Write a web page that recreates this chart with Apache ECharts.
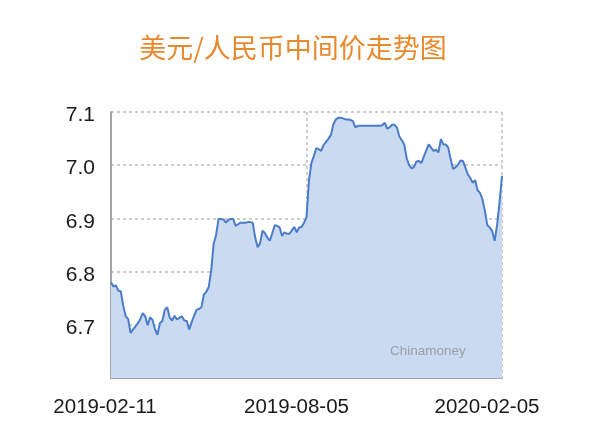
<!DOCTYPE html>
<html>
<head>
<meta charset="utf-8">
<script src="https://cdn.jsdelivr.net/npm/echarts@6/dist/echarts.min.js"></script>
<style>
html,body{margin:0;padding:0;background:#fff;}
#chart{width:600px;height:446px;}
</style>
</head>
<body>
<div id="chart"></div>
<script>
const titleText = '美元/人民币中间价走势图';
const watermarkText = 'Chinamoney';
const tickLabels = ['2019-02-11', '2019-08-05', '2020-02-05'];
const tickIndex = [0, 80, 160];
const rates = [
  6.780, 6.772, 6.774, 6.764, 6.763, 6.736, 6.716, 6.711, 6.685, 6.691,
  6.697, 6.703, 6.711, 6.722, 6.716, 6.699, 6.714, 6.709, 6.692, 6.681,
  6.703, 6.707, 6.728, 6.733, 6.714, 6.708, 6.717, 6.710, 6.713, 6.716,
  6.708, 6.707, 6.691, 6.705, 6.717, 6.728, 6.730, 6.733, 6.757, 6.762,
  6.771, 6.802, 6.852, 6.869, 6.899, 6.899, 6.898, 6.892, 6.897, 6.899,
  6.899, 6.886, 6.889, 6.892, 6.892, 6.892, 6.893, 6.893, 6.892, 6.864,
  6.846, 6.853, 6.877, 6.872, 6.864, 6.858, 6.872, 6.887, 6.886, 6.883,
  6.867, 6.874, 6.871, 6.871, 6.877, 6.884, 6.874, 6.883, 6.884, 6.892,
  6.902, 6.971, 7.004, 7.017, 7.032, 7.030, 7.027, 7.038, 7.044, 7.050,
  7.057, 7.077, 7.086, 7.089, 7.089, 7.088, 7.086, 7.086, 7.085, 7.083,
  7.071, 7.074, 7.074, 7.074, 7.074, 7.074, 7.074, 7.074, 7.074, 7.074,
  7.074, 7.075, 7.080, 7.069, 7.071, 7.076, 7.076, 7.071, 7.054, 7.047,
  7.039, 7.013, 7.000, 6.994, 6.997, 7.007, 7.008, 7.004, 7.016, 7.028,
  7.039, 7.033, 7.027, 7.029, 7.024, 7.049, 7.039, 7.039, 7.033, 7.011,
  6.993, 6.996, 7.001, 7.009, 7.008, 6.996, 6.983, 6.976, 6.967, 6.972,
  6.953, 6.948, 6.936, 6.914, 6.887, 6.883, 6.876, 6.858, 6.888, 6.930,
  6.980
];
const categories = rates.map(function (_, i) {
  const k = tickIndex.indexOf(i);
  return k >= 0 ? tickLabels[k] : '';
});

const chart = echarts.init(document.getElementById('chart'), null, {renderer: 'canvas'});
const isTick = function (i) { return tickIndex.indexOf(i) >= 0; };
const richKeys = ['l', 'm', 'r'];
const FONT = '"Liberation Sans", Arial, sans-serif';

chart.setOption({
  animation: false,
  backgroundColor: '#ffffff',
  title: {
    text: titleText,
    left: 288,
    top: 29,
    textAlign: 'center',
    textStyle: {
      color: '#E8892E',
      fontSize: 27,
      fontWeight: 'normal',
      fontFamily: 'Noto Sans CJK SC'
    }
  },
  grid: {left: 111, right: 98, top: 112, bottom: 68},
  graphic: [{
    type: 'text',
    left: 390,
    top: 344,
    z: 100,
    zlevel: 0,
    silent: true,
    style: {
      text: watermarkText,
      fill: '#9A9FA8',
      fontSize: 13.5,
      fontFamily: FONT
    }
  }],
  xAxis: {
    type: 'category',
    data: categories,
    boundaryGap: false,
    axisTick: {show: false},
    axisLine: {show: true, lineStyle: {color: '#A6A6A6', width: 2}},
    axisLabel: {
      interval: function (i) { return isTick(i); },
      margin: 19,
      color: '#1a1a1a',
      fontSize: 20.5,
      fontFamily: FONT,
      formatter: function (v) {
        const k = tickLabels.indexOf(v);
        return '{' + richKeys[k] + '|' + v + '}';
      },
      rich: {
        l: {fontSize: 20.5, color: '#1a1a1a', fontFamily: FONT, padding: [0, 12, 0, 0]},
        m: {fontSize: 20.5, color: '#1a1a1a', fontFamily: FONT, padding: [0, 20, 0, 0]},
        r: {fontSize: 20.5, color: '#1a1a1a', fontFamily: FONT, padding: [0, 30, 0, 0]}
      }
    },
    splitLine: {
      show: true,
      interval: function (i) { return i === tickIndex[1] || i === tickIndex[2]; },
      lineStyle: {color: '#BDBDBD', type: [3, 3], width: 1.5}
    }
  },
  yAxis: {
    type: 'value',
    min: 6.6,
    max: 7.1,
    interval: 0.1,
    axisTick: {show: false},
    axisLine: {show: true, lineStyle: {color: '#A6A6A6', width: 2}},
    axisLabel: {
      showMinLabel: false,
      margin: 16,
      color: '#1a1a1a',
      fontSize: 21,
      fontFamily: FONT,
      formatter: function (v) { return '{a|' + v.toFixed(1) + '}'; },
      rich: {
        a: {fontSize: 21, color: '#1a1a1a', fontFamily: FONT, padding: [7, 0, 0, 0]}
      }
    },
    splitLine: {
      show: true,
      lineStyle: {color: '#BDBDBD', type: [3, 3], width: 1.5}
    }
  },
  series: [{
    type: 'line',
    data: rates,
    showSymbol: false,
    smooth: false,
    lineStyle: {color: '#4A7CC9', width: 2},
    areaStyle: {color: '#CADAF1', opacity: 1},
    z: 1
  }]
});
</script>
</body>
</html>
